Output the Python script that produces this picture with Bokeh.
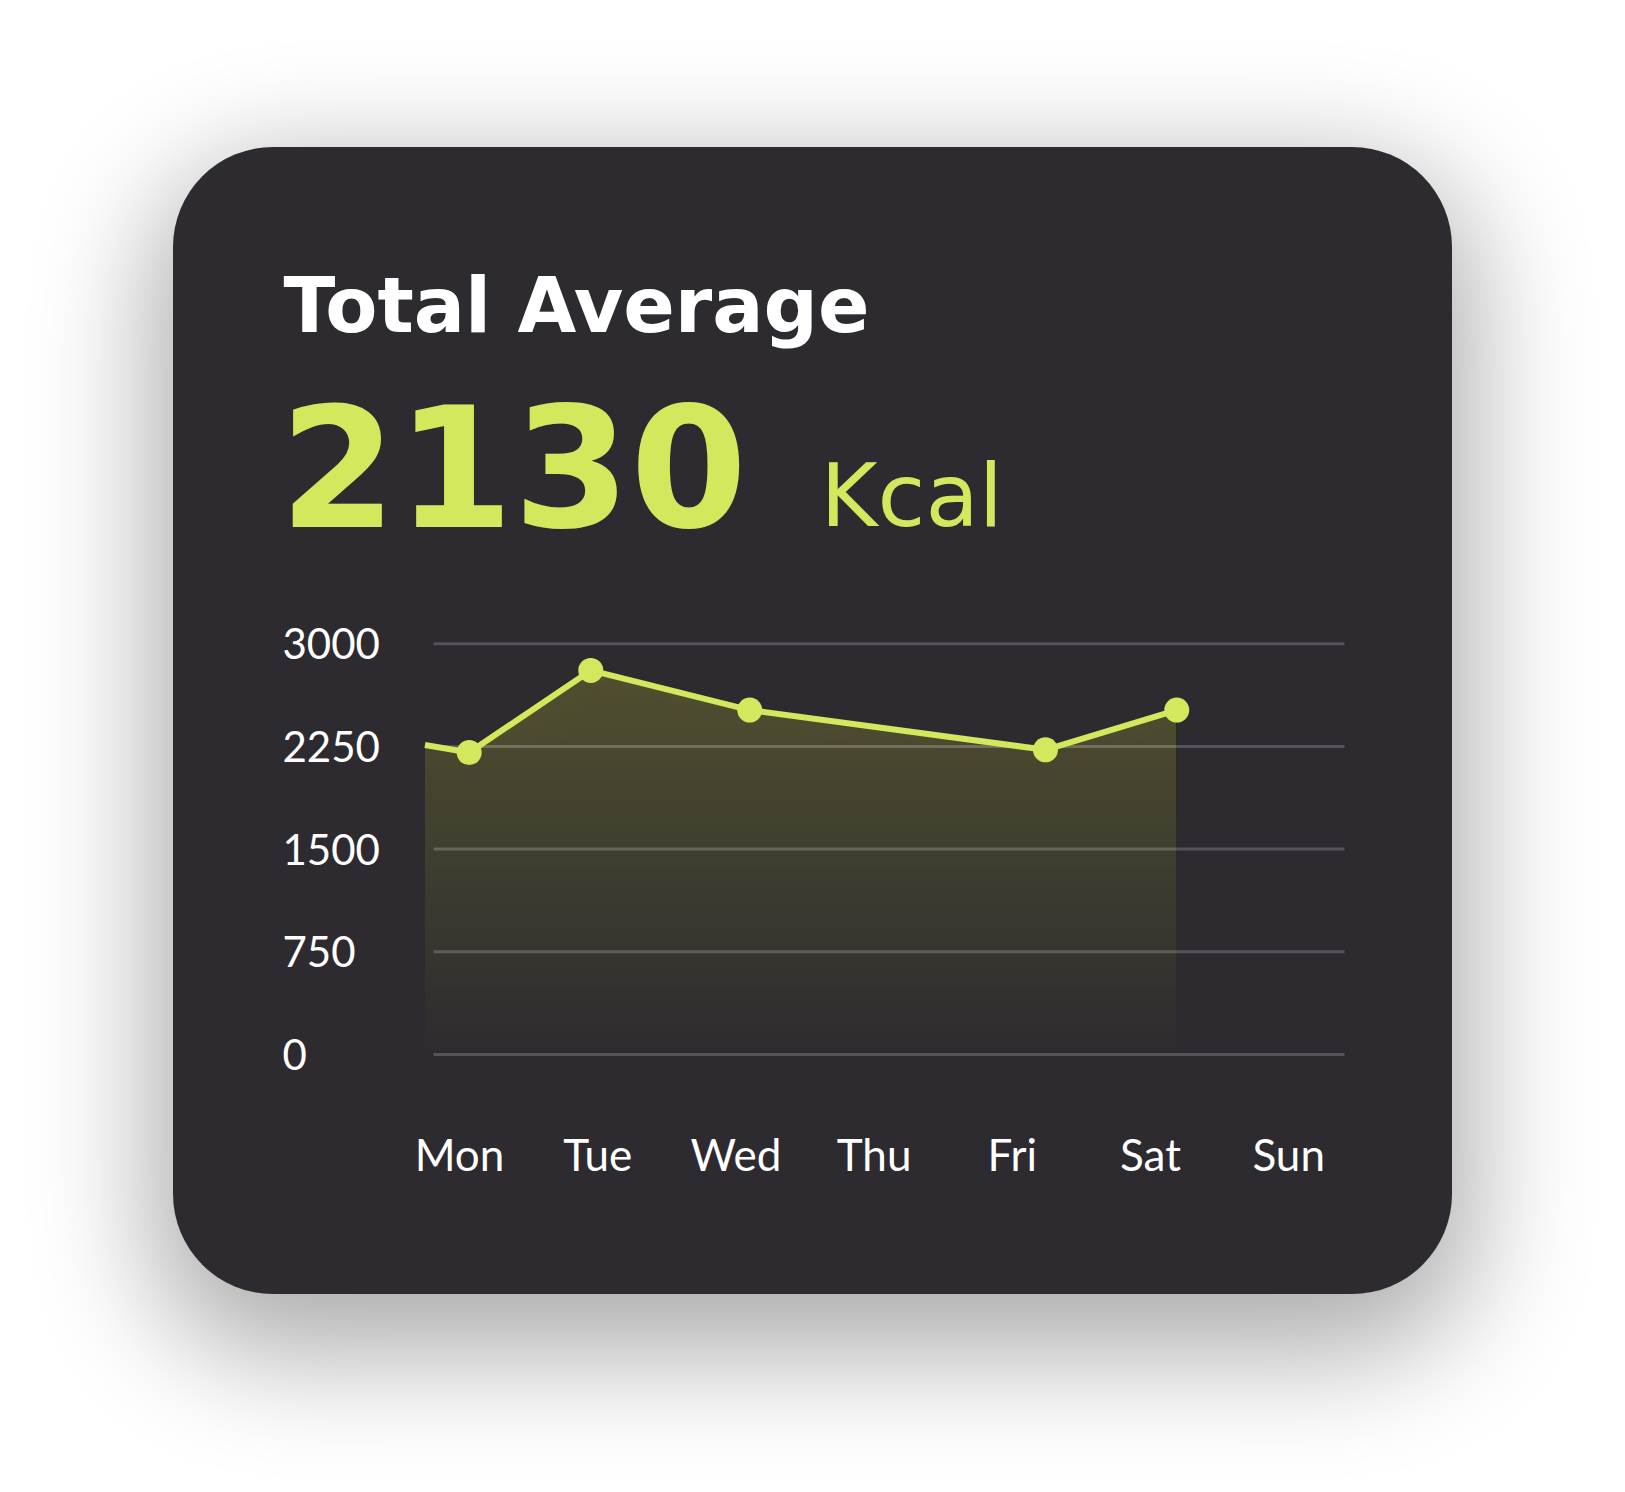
import numpy as np
from bokeh.plotting import figure
from bokeh.models import FixedTicker, Range1d
from bokeh.core.properties import value
from bokeh.embed import file_html
from bokeh.resources import INLINE

# ---------------- data ----------------
days = ["Mon", "Tue", "Wed", "Thu", "Fri", "Sat", "Sun"]
y_ticks = [0, 750, 1500, 2250, 3000]
y_tick_labels = ["0", "750", "1500", "2250", "3000"]
# position of each reading along the week (0 = Mon ... 6 = Sun) and its kcal
reading_pos = [-0.25, 0.07, 0.95, 2.10, 4.24, 5.19]
reading_kcal = [2260, 2205, 2805, 2515, 2225, 2515]
marker_pos = reading_pos[1:]
marker_kcal = reading_kcal[1:]
title_text = "Total Average"
average_text = "2130"
unit_text = "Kcal"

# ---------------- style / layout ----------------
LIME = "#d4e85d"
AREA = "#d6ee5a"
CARD = "#2d2b2f"
GRID = "#55535a"
TICK_FONT = "Lato"
HEAD_FONT = "DejaVu Sans"

CARD_L, CARD_T, CARD_W, CARD_H = 173, 147, 1279, 1147   # page px
FRAME_B = 1092                  # bottom of plotting frame (page px)
GRID_L, GRID_R = 433, 1344      # horizontal extent of the grid lines
X0_PX, X_STEP = 459, 138.2      # Mon label centre, px per day
Y0_PX, Y_SCALE = 1054, 0.13693  # 0 kcal line, px per kcal


def kx(px):
    return (px - X0_PX) / X_STEP


def vy(py):
    return (Y0_PX - py) / Y_SCALE


p = figure(
    width=CARD_W, height=CARD_H,
    output_backend="svg", toolbar_location=None,
    x_range=Range1d(kx(CARD_L), kx(CARD_L + CARD_W)),
    y_range=Range1d(vy(FRAME_B), vy(CARD_T)),
    min_border_left=0, min_border_right=0, min_border_top=0,
    min_border_bottom=CARD_T + CARD_H - FRAME_B,
    margin=(CARD_T, 0, 0, CARD_L),
)
p.styles = {
    "background-color": CARD,
    "border-radius": "100px",
    "box-shadow": "0px 40px 120px 20px rgba(0,0,0,0.33)",
}
p.border_fill_color = None
p.background_fill_color = None
p.outline_line_color = None
p.xgrid.visible = False
p.ygrid.visible = False
p.yaxis.visible = False

# x axis (day names)
xa = p.xaxis[0]
xa.ticker = FixedTicker(ticks=list(range(len(days))))
xa.major_label_overrides = {i: d for i, d in enumerate(days)}
xa.axis_line_color = None
xa.major_tick_line_color = None
xa.minor_tick_line_color = None
xa.major_tick_in = 0
xa.major_tick_out = 0
xa.major_label_standoff = 35
xa.major_label_text_font = TICK_FONT
xa.major_label_text_font_size = "44px"
xa.major_label_text_color = "#ffffff"

# horizontal grid lines at the y ticks
n = len(y_ticks)
p.segment(x0=[kx(GRID_L)] * n, x1=[kx(GRID_R)] * n, y0=y_ticks, y1=y_ticks,
          line_color=GRID, line_width=3)

# y tick labels (left aligned)
p.text(x=[kx(282)] * n, y=y_ticks, text=y_tick_labels,
       text_align="left", text_baseline="middle",
       text_font=value(TICK_FONT), text_font_size="42px", text_color="#ffffff")

# gradient-like area under the line (stacked translucent layers)
xs = np.array(reading_pos, dtype=float)
ys = np.array(reading_kcal, dtype=float)
for t in range(0, 2900, 80):
    p.varea(x=xs, y1=np.minimum(t, ys), y2=ys, fill_color=AREA,
            fill_alpha=0.008)

p.line(reading_pos, reading_kcal, line_color=LIME, line_width=6)
p.scatter(marker_pos, marker_kcal, size=25, fill_color=LIME, line_color=None)

# headings
p.text(x=[kx(283)], y=[vy(305)], text=[title_text],
       text_font=value(HEAD_FONT), text_font_style="bold",
       text_font_size="76px", text_color="#ffffff", text_baseline="alphabetic")
p.text(x=[kx(279)], y=[vy(465)], text=[average_text],
       text_font=value(HEAD_FONT), text_font_style="bold",
       text_font_size="168px", text_color=LIME, text_baseline="alphabetic")
p.text(x=[kx(820)], y=[vy(495)], text=[unit_text],
       text_font=value(HEAD_FONT), text_font_size="87px",
       text_color=LIME, text_baseline="alphabetic")

open("out.html", "w").write(file_html(p, INLINE))
